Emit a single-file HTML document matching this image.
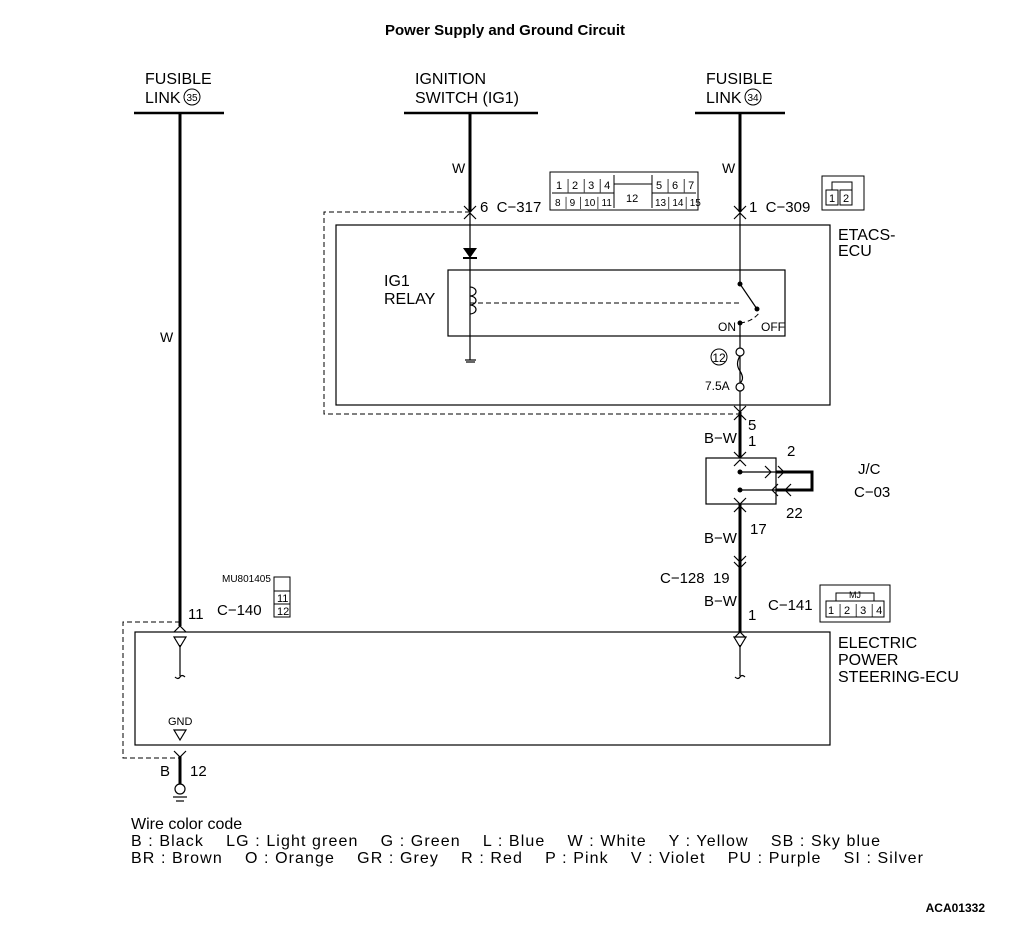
<!DOCTYPE html>
<html><head><meta charset="utf-8"><style>
body{margin:0;background:#fff}
svg text{font-family:"Liberation Sans",sans-serif;fill:#000;white-space:pre}
</style></head><body>
<svg width="1010" height="920" viewBox="0 0 1010 920" xmlns="http://www.w3.org/2000/svg">
<text x="505" y="35" font-size="15" font-weight="bold" text-anchor="middle">Power Supply and Ground Circuit</text>
<g font-size="16">
<text x="145" y="84">FUSIBLE</text><text x="145" y="103">LINK</text>
<circle cx="192" cy="97" r="8" fill="none" stroke="#000"/><text x="192" y="101" font-size="10" text-anchor="middle">35</text>
<text x="415" y="84">IGNITION</text><text x="415" y="103">SWITCH (IG1)</text>
<text x="706" y="84">FUSIBLE</text><text x="706" y="103">LINK</text>
<circle cx="753" cy="97" r="8" fill="none" stroke="#000"/><text x="753" y="101" font-size="10" text-anchor="middle">34</text>
</g>
<g stroke="#000" stroke-width="2.5">
<line x1="134" y1="113" x2="224" y2="113"/>
<line x1="404" y1="113" x2="538" y2="113"/>
<line x1="695" y1="113" x2="785" y2="113"/>
</g>
<g stroke="#000" stroke-width="3">
<line x1="180" y1="113" x2="180" y2="626"/>
<line x1="470" y1="113" x2="470" y2="212"/>
<line x1="740" y1="113" x2="740" y2="212"/>
<line x1="740" y1="412" x2="740" y2="458"/>
<line x1="740" y1="504" x2="740" y2="632"/>
<line x1="180" y1="756" x2="180" y2="784"/>
<polyline points="776,472 812,472 812,490 776,490" fill="none"/>
</g>
<g font-size="14" font-family="Liberation Mono,monospace">
<text x="452" y="173">W</text><text x="722" y="173">W</text><text x="160" y="342">W</text>
</g>
<g fill="none" stroke="#000" stroke-dasharray="5,3" stroke-width="1">
<polyline points="470,212 324,212 324,414 740,414"/>
<polyline points="180,622 123,622 123,758 180,758"/>
<line x1="470" y1="303" x2="740" y2="303"/>
<path d="M740 323 Q752 322 760 312"/>
</g>
<g fill="none" stroke="#000" stroke-width="1.2">
<rect x="336" y="225" width="494" height="180"/>
<rect x="448" y="270" width="337" height="66"/>
<rect x="135" y="632" width="695" height="113"/>
<rect x="706" y="458" width="70" height="46"/>
</g>
<g stroke="#000" stroke-width="1.2" fill="none">
<line x1="470" y1="212" x2="470" y2="360"/>
<line x1="740" y1="212" x2="740" y2="284"/>
<line x1="740" y1="323" x2="740" y2="412"/>
<line x1="740" y1="284" x2="757" y2="309"/>
<line x1="740" y1="472" x2="776" y2="472"/><line x1="740" y1="490" x2="776" y2="490"/>
<line x1="180" y1="645" x2="180" y2="676"/>
<line x1="740" y1="645" x2="740" y2="676"/>
<path d="M175 677 q3 3 5 0 q2 -3 5 0"/><path d="M735 677 q3 3 5 0 q2 -3 5 0"/>
<path d="M174 637 h12 l-6 10 z"/><path d="M734 637 h12 l-6 10 z"/><path d="M174 730 h12 l-6 10 z"/>
<path d="M470 287 a6 4.5 0 1 1 0 9 a6 4.5 0 1 1 0 9 a6 4.5 0 1 1 0 9"/>
<line x1="465" y1="360" x2="476" y2="360"/><line x1="466" y1="362" x2="475" y2="362"/>
<circle cx="740" cy="352" r="4" fill="#fff"/><circle cx="740" cy="387" r="4" fill="#fff"/>
<path d="M740 356 q-5 8 0 15 q5 8 0 12"/>
<path d="M464 206 l6 6 l6 -6 M464 219 l6 -6 l6 6"/>
<path d="M734 206 l6 6 l6 -6 M734 219 l6 -6 l6 6"/>
<path d="M734 406 l6 6 l6 -6 M734 420 l6 -6 l6 6"/>
<path d="M734 452 l6 6 l6 -6 M734 466 l6 -6 l6 6"/>
<path d="M734 498 l6 6 l6 -6 M734 512 l6 -6 l6 6"/>
<path d="M734 556 l6 6 l6 -6 M734 562 l6 6 l6 -6"/>
<path d="M734 638 l6 -6 l6 6"/>
<path d="M174 632 l6 -6 l6 6"/><path d="M174 751 l6 6 l6 -6"/>
<path d="M765 466 l6 6 l-6 6 M778 466 l6 6 l-6 6"/>
<path d="M778 484 l-6 6 l6 6 M791 484 l-6 6 l6 6"/>
<circle cx="180" cy="789" r="5"/>
<line x1="173" y1="797" x2="187" y2="797"/><line x1="176" y1="801" x2="184" y2="801"/>
</g>
<path d="M463 248 h14 l-7 10 z" fill="#000"/><line x1="463" y1="258" x2="477" y2="258" stroke="#000" stroke-width="2"/>
<g fill="#000"><circle cx="740" cy="284" r="2.5"/><circle cx="757" cy="309" r="2.5"/><circle cx="740" cy="323" r="2.5"/><circle cx="740" cy="472" r="2.5"/><circle cx="740" cy="490" r="2.5"/></g>
<g fill="none" stroke="#000" stroke-width="1">
<rect x="550" y="172" width="148" height="38"/>
<line x1="552" y1="193" x2="614" y2="193"/><line x1="652" y1="193" x2="696" y2="193"/>
<line x1="614" y1="175" x2="614" y2="208"/><line x1="652" y1="175" x2="652" y2="208"/>
<line x1="614" y1="184" x2="652" y2="184"/>
<rect x="822" y="176" width="42" height="34"/><rect x="826" y="190" width="12" height="15"/><rect x="840" y="190" width="12" height="15"/>
<path d="M832 190 v-8 h20 v8"/>
<rect x="274" y="577" width="16" height="40"/><line x1="274" y1="591" x2="290" y2="591"/><line x1="274" y1="604" x2="290" y2="604"/>
<rect x="820" y="585" width="70" height="37"/><rect x="826" y="601" width="58" height="16"/>
<path d="M836 601 v-8 h38 v8"/>
</g>
<g font-size="11">
<text x="556" y="189">1 │2 │3 │4</text><text x="656" y="189">5 │6 │7</text>
<text x="555" y="206" font-size="10">8 │9 │10│11</text><text x="655" y="206" font-size="10">13│14│15</text>
<text x="626" y="202">12</text>
<text x="829" y="202">1</text><text x="843" y="202">2</text>
<text x="277" y="602">11</text><text x="277" y="615">12</text>
<text x="828" y="614">1 │2 │3 │4</text><text x="849" y="598" font-size="9">MJ</text>
<text x="222" y="582" font-size="10">MU801405</text>
</g>
<g font-size="15">
<text x="480" y="212">6  C−317</text>
<text x="749" y="212">1  C−309</text>
<text x="748" y="430">5</text><text x="748" y="446">1</text><text x="704" y="443">B−W</text>
<text x="787" y="456">2</text><text x="786" y="518">22</text>
<text x="858" y="474">J/C</text><text x="854" y="497">C−03</text>
<text x="750" y="534">17</text><text x="704" y="543">B−W</text>
<text x="660" y="583">C−128  19</text><text x="704" y="606">B−W</text>
<text x="748" y="620">1</text><text x="768" y="610">C−141</text>
<text x="188" y="619">11</text><text x="217" y="615">C−140</text>
<text x="160" y="776">B</text><text x="190" y="776">12</text>
<text x="718" y="331" font-size="12">ON</text><text x="761" y="331" font-size="12">OFF</text>
<text x="705" y="390" font-size="12">7.5A</text>
<text x="168" y="725" font-size="11">GND</text>
</g>
<circle cx="719" cy="357" r="8" fill="none" stroke="#000"/><text x="719" y="362" font-size="12" text-anchor="middle">12</text>
<g font-size="16">
<text x="384" y="286">IG1</text><text x="384" y="304">RELAY</text>
<text x="838" y="240">ETACS-</text><text x="838" y="256">ECU</text>
<text x="838" y="648">ELECTRIC</text><text x="838" y="665">POWER</text><text x="838" y="682">STEERING-ECU</text>
<text x="131" y="829">Wire color code</text>
<text x="131" y="846" textLength="749" lengthAdjust="spacing">B : Black    LG : Light green    G : Green    L : Blue    W : White    Y : Yellow    SB : Sky blue</text>
<text x="131" y="863" textLength="792" lengthAdjust="spacing">BR : Brown    O : Orange    GR : Grey    R : Red    P : Pink    V : Violet    PU : Purple    SI : Silver</text>
</g>
<text x="985" y="912" font-size="12" font-weight="bold" text-anchor="end">ACA01332</text>
</svg>
</body></html>
